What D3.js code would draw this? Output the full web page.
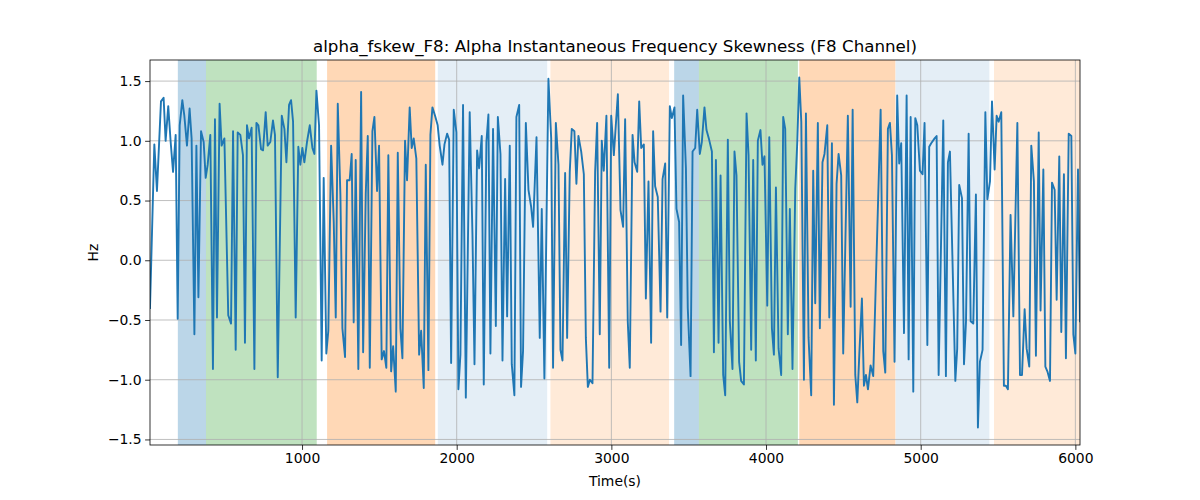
<!DOCTYPE html>
<html><head><meta charset="utf-8">
<script src="https://cdn.jsdelivr.net/npm/d3@7"></script>
<style>body{margin:0;background:#fff;} svg{display:block;}</style>
</head><body>
<svg id="chart" width="1200" height="500"></svg>
<script>
const times = [17,45,62,88,105,118,135,150,166,183,196,209,226,239,256,273,286,304,317,330,347,364,377,390,407,424,437,450,467,480,498,
523,541,554,571,584,601,618,631,644,657,674,692,705,718,735,748,765,778,795,812,825,843,869,886,899,916,929,942,959,976,989,1002,
1015,1032,1050,1067,1080,1093,1110,1127,1140,1157,1170,1188,1205,1218,1231,1248,1261,1278,1291,1308,1321,1334,1347,1364,1382,1395,1412,1425,1438,1455,1468,1485,1498,
1515,1530,1545,1558,1576,1589,1606,1619,1636,1649,1666,1679,1696,1709,1722,1739,1757,1770,1787,1800,1817,1830,1843,1860,1877,1890,1908,1921,1938,1951,1964,1981,1998,2011,
2024,2041,2059,2084,2102,2115,2132,2145,2162,2175,2192,2205,2218,2235,2253,2266,2283,2296,2313,2326,2343,2356,2373,2386,2404,2416,2429,2447,2464,2481,2494,2516,
2537,2550,2567,2593,2611,2623,2641,2658,2671,2684,2701,2714,2731,2744,2761,2774,2787,2805,2822,2835,2848,2861,2878,2895,2908,2925,2938,2951,2968,2986,2999,3016,
3042,3059,3076,3089,3106,3119,3137,3150,3167,3180,3193,3210,3223,3240,3257,3270,3283,3300,3318,3331,3348,3361,3378,3391,3408,3421,3438,3451,3464,3482,3494,3512,3525,
3542,3555,3572,3585,3602,3615,3632,3650,3663,3676,3693,3706,3723,3736,3753,3766,3783,3796,3809,3826,3839,3857,3874,3887,3904,3917,3934,3947,3964,3977,3990,4008,4021,
4038,4051,4064,4081,4098,4111,4124,4141,4154,4171,4189,4202,4215,4228,4245,4258,4275,4292,4305,4318,4335,4348,4365,4378,4396,4409,4426,4439,4456,4469,4486,4499,4529,
4547,4560,4577,4590,4603,4620,4633,4646,4659,4676,4693,4741,4758,4771,4788,4801,4814,4831,4848,4861,4874,4892,4909,4922,4935,4952,4965,4978,4995,5012,5025,5043,
5055,5068,5090,5103,5116,5146,5163,5176,5189,5224,5236,5249,5267,5280,5293,5310,5323,5340,5357,5370,5383,5400,5418,5431,5448,5461,5478,5491,5504,5521,5538,
5551,5564,5581,5599,5625,5642,5655,5672,5685,5702,5715,5732,5745,5763,5775,5793,5806,5819,5836,5849,5866,5879,5896,5909,5926,5939,5957,5974,5987,6000,6017,6030];

const values = [-0.40,0.97,0.58,1.33,1.36,1.00,1.29,1.00,0.74,1.05,-0.49,1.13,1.34,1.21,0.96,1.27,1.02,-0.62,0.96,-0.31,1.08,0.99,0.69,0.80,1.05,-0.91,1.18,-0.48,1.31,0.96,1.02,
-0.46,-0.53,1.08,-0.75,1.07,1.05,0.88,-0.69,1.13,1.02,1.11,-0.91,1.15,1.13,0.93,0.92,1.24,0.96,0.99,1.17,1.05,-0.98,1.21,1.10,0.82,1.30,1.34,1.16,-0.48,0.95,0.80,0.94,
0.82,0.99,1.13,0.94,0.89,1.42,1.13,-0.84,0.69,-0.78,-0.59,0.96,0.32,-0.48,1.31,0.55,-0.57,-0.81,0.67,0.67,0.89,-0.52,0.84,-0.91,1.41,-0.77,0.56,1.04,-0.90,1.08,1.20,0.58,0.96,
-0.83,-0.76,-0.90,0.88,-0.93,-0.72,-1.10,0.90,-0.57,-0.82,1.00,0.67,1.28,0.94,1.02,0.85,-0.79,-0.59,-1.07,0.80,-0.92,1.05,1.28,1.21,1.13,0.96,0.80,0.97,1.06,1.01,-0.86,1.26,1.07,-1.08,
-0.79,1.30,-1.15,1.24,0.21,-0.87,0.92,0.77,1.04,-1.04,0.99,1.22,-0.78,1.10,-0.55,1.20,0.89,-0.84,0.68,-0.47,0.96,-0.87,-1.13,1.20,1.30,-1.06,-0.76,1.15,0.59,0.45,0.28,1.03,
-0.65,0.43,-0.99,1.52,1.02,-0.90,1.15,0.80,-0.75,-0.84,0.73,-0.65,0.74,1.10,1.08,0.64,1.04,0.91,0.72,-0.65,-1.06,-1.00,-1.03,0.74,1.15,-0.62,1.00,0.75,1.21,-0.90,1.21,0.88,
1.39,0.42,0.28,1.18,-0.51,-0.90,1.05,0.82,0.74,1.33,0.94,0.97,-0.32,0.66,-0.69,1.08,0.62,0.53,-0.43,0.68,0.81,-0.48,1.29,1.19,1.28,0.43,0.32,-0.71,1.38,0.77,-0.40,-0.97,0.91,
0.94,1.26,0.89,0.99,1.28,1.09,1.01,0.91,-0.77,0.84,-0.69,0.71,-0.96,-1.13,1.01,-0.51,-0.91,0.91,0.71,-0.85,-1.01,-1.04,1.23,0.88,-0.75,0.84,-0.84,1.00,1.09,0.80,0.87,-0.38,1.03,
-0.57,-0.79,0.61,-0.74,-0.96,1.20,1.10,-0.62,0.43,-0.91,0.60,0.99,1.53,1.16,-1.00,1.23,-0.65,-1.13,0.75,-0.36,1.15,-0.57,0.82,0.89,1.13,-0.48,0.98,-1.21,0.64,0.89,0.71,-0.78,1.21,
-0.39,1.26,-0.96,-1.19,-0.79,-0.32,-1.05,-0.96,-1.08,-0.88,-0.97,1.26,-0.76,-0.94,1.10,1.15,0.88,-0.85,1.38,0.81,0.98,-0.61,1.38,-0.83,1.20,-1.10,1.19,1.13,0.75,0.72,1.15,-0.71,
0.95,0.98,1.02,1.04,-0.96,1.17,-0.97,0.82,0.91,-1.01,-0.74,0.63,0.52,-0.87,-0.51,1.06,-0.51,-0.53,0.55,-1.40,-0.85,-0.75,1.24,0.51,0.66,1.33,0.76,1.21,1.16,1.24,-1.05,
-1.05,-1.08,0.38,-0.47,1.15,-0.96,-0.96,-0.41,-0.74,-0.89,0.96,0.66,-0.80,1.07,-0.42,0.76,-0.89,-0.93,-1.01,0.65,0.59,-0.33,0.87,-0.60,0.72,-0.82,1.06,1.04,-0.62,-0.78,0.76,-0.51];

const bandStarts = [197, 379, 1162, 1878, 2606, 3406, 3566, 4215, 4838, 5474];
const bandEnds   = [379, 1095, 1861, 2585, 3373, 3566, 4206, 4836, 5444, 6031];
const bandColors = ["#1f77b4","#2ca02c","#ff7f0e","#1f77b4","#ff7f0e","#1f77b4","#2ca02c","#ff7f0e","#1f77b4","#ff7f0e"];
const bandAlphas = [0.3,0.3,0.3,0.12,0.16,0.3,0.3,0.3,0.12,0.16];

const xTicks = [1000,2000,3000,4000,5000,6000];
const yTicks = [-1.5,-1.0,-0.5,0.0,0.5,1.0,1.5];

const W = 1200, H = 500;
const m = {left:150, right:1080, top:60, bottom:445};
const svg = d3.select("#chart");
const font = "DejaVu Sans, sans-serif";

const x = d3.scaleLinear().domain(d3.extent(times)).range([m.left, m.right]);
const [ymin, ymax] = d3.extent(values);
const pad = (ymax - ymin) * 0.05;
const y = d3.scaleLinear().domain([ymin - pad, ymax + pad]).range([m.bottom, m.top]);

svg.append("rect").attr("width",W).attr("height",H).attr("fill","#fff");

svg.append("defs").append("clipPath").attr("id","clip")
  .append("rect").attr("x",m.left).attr("y",m.top).attr("width",m.right-m.left).attr("height",m.bottom-m.top);

const plot = svg.append("g").attr("clip-path","url(#clip)");
plot.selectAll("rect.band").data(bandStarts).enter().append("rect")
  .attr("x", d => x(d))
  .attr("width", (d,i) => x(bandEnds[i]) - x(d))
  .attr("y", m.top).attr("height", m.bottom - m.top)
  .attr("fill", (d,i) => bandColors[i]).attr("fill-opacity", (d,i) => bandAlphas[i]);

plot.selectAll("line.gx").data(xTicks).enter().append("line")
  .attr("x1", d=>x(d)).attr("x2", d=>x(d)).attr("y1", m.top).attr("y2", m.bottom)
  .attr("stroke","#b0b0b0").attr("stroke-width",0.8);
plot.selectAll("line.gy").data(yTicks).enter().append("line")
  .attr("y1", d=>y(d)).attr("y2", d=>y(d)).attr("x1", m.left).attr("x2", m.right)
  .attr("stroke","#b0b0b0").attr("stroke-width",0.8);

const line = d3.line().x((d,i)=>x(times[i])).y(d=>y(d));
plot.append("path").datum(values).attr("d", line)
  .attr("fill","none").attr("stroke","#1f77b4").attr("stroke-width",1.9)
  .attr("stroke-linejoin","round").attr("stroke-linecap","square");

const fmtY = d => (d < 0 ? "\u2212" : "") + Math.abs(d).toFixed(1);
const xAxis = d3.axisBottom(x).tickValues(xTicks).tickSize(4.9).tickPadding(3.5).tickFormat(d3.format("d"));
const yAxis = d3.axisLeft(y).tickValues(yTicks).tickSize(4.9).tickPadding(3.5).tickFormat(fmtY);
const gx = svg.append("g").attr("transform",`translate(0,${m.bottom})`).call(xAxis);
const gy = svg.append("g").attr("transform",`translate(${m.left},0)`).call(yAxis);
[gx, gy].forEach(g => {
  g.select(".domain").remove();
  g.selectAll(".tick line").attr("stroke","#000").attr("stroke-width",0.8);
  g.selectAll(".tick text").attr("font-family",font).attr("font-size","13.9px").attr("fill","#000");
});

svg.append("rect").attr("x",m.left).attr("y",m.top).attr("width",m.right-m.left).attr("height",m.bottom-m.top)
  .attr("fill","none").attr("stroke","#000").attr("stroke-width",0.8);

svg.append("text").attr("x",(m.left+m.right)/2).attr("y",52).attr("text-anchor","middle")
  .attr("font-family",font).attr("font-size","16.7px").text("alpha_fskew_F8: Alpha Instantaneous Frequency Skewness (F8 Channel)");
svg.append("text").attr("x",(m.left+m.right)/2).attr("y",486).attr("text-anchor","middle")
  .attr("font-family",font).attr("font-size","13.9px").text("Time(s)");
svg.append("text").attr("transform",`translate(98,${(m.top+m.bottom)/2}) rotate(-90)`).attr("text-anchor","middle")
  .attr("font-family",font).attr("font-size","13.9px").text("Hz");
</script>
</body></html>
